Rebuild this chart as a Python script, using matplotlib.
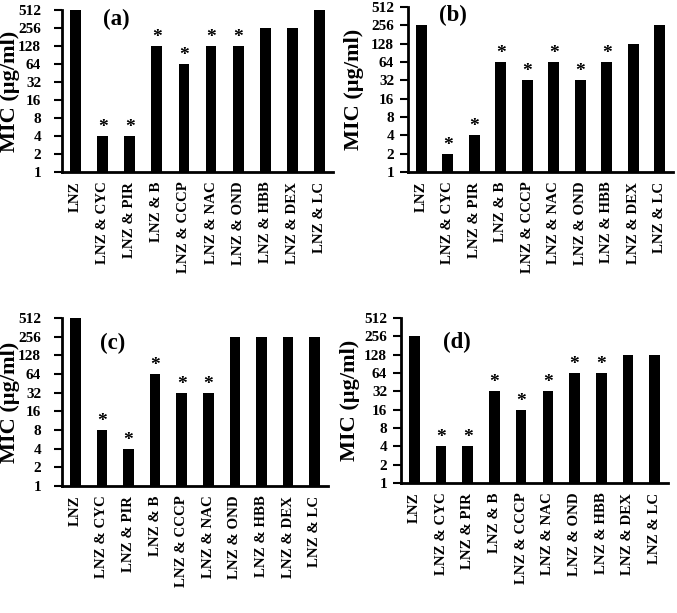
import numpy as np
from matplotlib import pyplot as plt

plt.rcParams['font.family'] = ['Liberation Serif', 'DejaVu Serif']
plt.rcParams['font.weight'] = 'bold'

labels = ['LNZ', 'LNZ & CYC', 'LNZ & PIR', 'LNZ & B', 'LNZ & CCCP',
          'LNZ & NAC', 'LNZ & OND', 'LNZ & HBB', 'LNZ & DEX', 'LNZ & LC']
yticks = [1, 2, 4, 8, 16, 32, 64, 128, 256, 512]

mic_a = [512, 4, 4, 128, 64, 128, 128, 256, 256, 512]
mic_b = [256, 2, 4, 64, 32, 64, 32, 64, 128, 256]
mic_c = [512, 8, 4, 64, 32, 32, 256, 256, 256, 256]
mic_d = [256, 4, 4, 32, 16, 32, 64, 64, 128, 128]

star_a = [0, 1, 1, 1, 1, 1, 1, 0, 0, 0]
star_b = [0, 1, 1, 1, 1, 1, 1, 1, 0, 0]
star_c = [0, 1, 1, 1, 1, 1, 0, 0, 0, 0]
star_d = [0, 1, 1, 1, 1, 1, 1, 1, 0, 0]

W, H = 677, 613

# name, values, stars, axes rect (px: left, bottom, right, top), label pos, ytick pad, ylabel right edge px
panels = [
    ('(a)', mic_a, star_a, (62, 172, 333, 10), (0.20, 0.94), 9, 20),
    ('(b)', mic_b, star_b, (408, 172, 673, 7), (0.17, 0.95), 4, 364),
    ('(c)', mic_c, star_c, (62, 486, 328, 318), (0.19, 0.85), 9, 20),
    ('(d)', mic_d, star_d, (401, 483, 668, 318), (0.21, 0.85), 4, 360),
]

fig = plt.figure(figsize=(W / 100, H / 100), dpi=100)

for name, vals, stars, px, lab_pos, pad, ylab_x in panels:
    l, b, r, t = px
    ax = fig.add_axes([l / W, 1 - b / H, (r - l) / W, (b - t) / H])
    x = np.arange(len(labels))
    ax.bar(x, vals, width=0.4, color='black')
    ax.set_yscale('log', base=2)
    ax.set_ylim(1, 512)
    ax.set_xlim(-0.5, len(labels) - 0.5)
    ax.set_yticks(yticks)
    ax.set_yticklabels([str(v) for v in yticks], fontsize=11, fontweight='bold')
    ax.minorticks_off()
    ax.set_xticks(x)
    ax.set_xticklabels(labels, rotation=90, fontsize=10.7, fontweight='bold')
    ax.tick_params(axis='x', length=0, pad=7)
    ax.tick_params(axis='y', length=6, width=1.5, pad=pad)
    for s in ['top', 'right']:
        ax.spines[s].set_visible(False)
    for s in ['left', 'bottom']:
        ax.spines[s].set_linewidth(2)
    ax.set_ylabel('MIC (µg/ml)', fontsize=16, fontweight='bold')
    ax.yaxis.set_label_coords((ylab_x - l) / (r - l), 0.5)
    for i, v in enumerate(vals):
        if stars[i]:
            ax.annotate('*', (i, v), xytext=(0, 0), textcoords='offset points',
                        ha='center', va='bottom', fontsize=14, fontweight='bold')
    ax.text(lab_pos[0], lab_pos[1], name, transform=ax.transAxes, fontsize=16.5,
            fontweight='bold', ha='center', va='center')

fig.savefig('out.png', dpi=100)
